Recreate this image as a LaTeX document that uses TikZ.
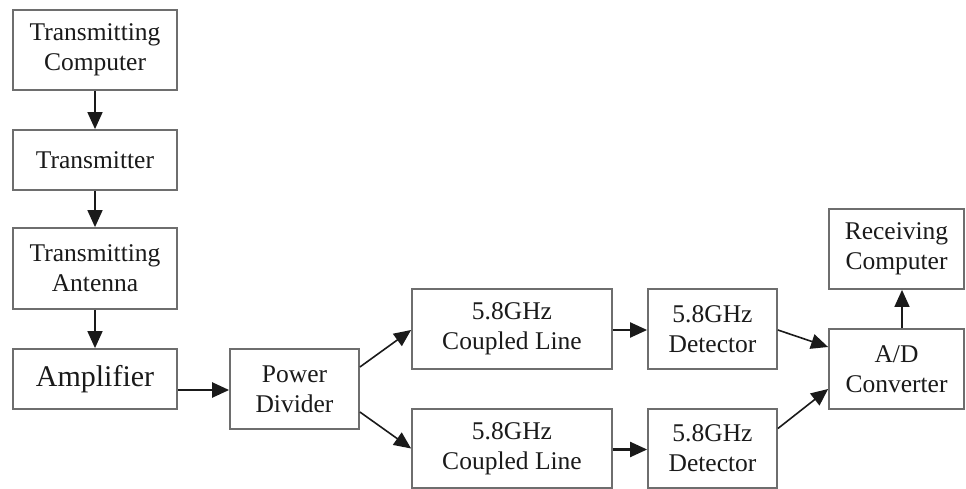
\documentclass[tikz,border=0pt]{standalone}
\usepackage{fontspec}
\setmainfont{Liberation Serif}
\usetikzlibrary{arrows.meta,calc}
\definecolor{boxline}{HTML}{6E6E6E}
\definecolor{txt}{HTML}{1A1A1A}
\begin{document}
\begin{tikzpicture}[x=1pt,y=-1pt,
  blk/.style={draw=boxline,line width=1.8pt,fill=white,inner sep=0pt,align=center,
    text=txt,font=\fontsize{25.5}{30}\selectfont},
  conn/.style={draw=txt,line width=1.6pt,-{Triangle[length=17pt,width=15pt]}}]
\useasboundingbox[fill=white] (0,0) rectangle (966,489);
\node[blk,minimum width=164pt,minimum height=80pt] (tc) at (95,50) {Transmitting\\Computer};
\node[blk,minimum width=164pt,minimum height=60pt] (tx) at (95,160) {Transmitter};
\node[blk,minimum width=164pt,minimum height=81pt] (ta) at (95,268.5) {Transmitting\\Antenna};
\node[blk,minimum width=164pt,minimum height=60pt,font=\fontsize{30}{34}\selectfont] (amp) at (95,379) {Amplifier};
\node[blk,minimum width=129pt,minimum height=80pt] (pd) at (294.5,389) {Power\\Divider};
\node[blk,minimum width=200pt,minimum height=80pt] (cl1) at (512,329) {5.8GHz\\Coupled Line};
\node[blk,minimum width=129pt,minimum height=80pt] (det1) at (712.5,329) {5.8GHz\\Detector};
\node[blk,minimum width=200pt,minimum height=79pt] (cl2) at (512,448.5) {5.8GHz\\Coupled Line};
\node[blk,minimum width=129pt,minimum height=79pt] (det2) at (712.5,448.5) {5.8GHz\\Detector};
\node[blk,minimum width=135pt,minimum height=80pt] (rc) at (896.5,249) {Receiving\\Computer};
\node[blk,minimum width=135pt,minimum height=80pt] (ad) at (896.5,369) {A/D\\Converter};
\draw[conn] (tc) -- (tx);
\draw[conn] (tx) -- (ta);
\draw[conn] (ta) -- (amp);
\draw[conn,line width=2.4pt] ($(amp.east)+(0,11)$) -- ($(pd.west)+(0,1)$);
\draw[conn] ($(pd.east)+(0,-22)$) -- ($(cl1.west)+(0,1)$);
\draw[conn] ($(pd.east)+(0,23)$) -- (cl2.west);
\draw[conn,line width=2.2pt] ($(cl1.east)+(0,1)$) -- ($(det1.west)+(0,1)$);
\draw[conn,line width=2.2pt] ($(cl2.east)+(0,1)$) -- ($(det2.west)+(0,1)$);
\draw[conn] ($(det1.east)+(0,1)$) -- ($(ad.west)+(0,-22)$);
\draw[conn] ($(det2.east)+(0,-20)$) -- ($(ad.west)+(0,20)$);
\draw[conn] ($(ad.north)+(5.5,0)$) -- ($(rc.south)+(5.5,0)$);
\end{tikzpicture}
\end{document}
